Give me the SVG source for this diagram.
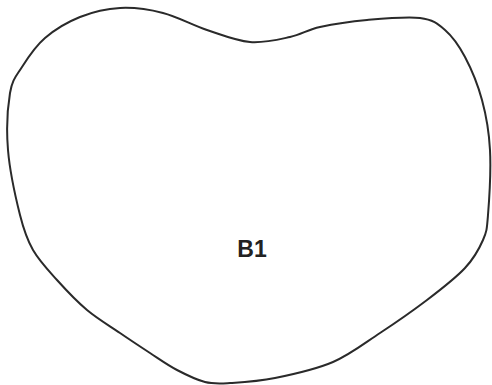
<svg xmlns="http://www.w3.org/2000/svg" width="492" height="385" viewBox="0 0 492 385">
<style>
.outline{fill:none;stroke:#2a2a2a;stroke-width:2;stroke-linejoin:round}
.label{font-family:"Liberation Sans",Arial,sans-serif;font-weight:bold;font-size:23px;fill:#222}
</style>
<rect width="492" height="385" fill="#ffffff"/>
<g id="B1">
<path class="outline" d="M 8,150 C 6.3,129.7 7.7,106.8 10,93 C 12.3,79.2 16.2,76.2 22,67 C 27.8,57.8 35.3,46.3 45,38 C 54.7,29.7 67.5,22 80,17 C 92.5,12 106.2,8.7 120,8 C 133.8,7.3 148.5,9.3 163,13 C 177.5,16.7 192.5,25.2 207,30 C 221.5,34.8 236.2,40.8 250,42 C 263.8,43.2 278.3,39.5 290,37 C 301.7,34.5 307.2,29.8 320,27 C 332.8,24.2 350.3,21.5 367,20 C 383.7,18.5 407,16.3 420,18 C 433,19.7 437.5,23.5 445,30 C 452.5,36.5 458.8,45.3 465,57 C 471.2,68.7 477.8,84.5 482,100 C 486.2,115.5 489,130.8 490,150 C 491,169.2 489.2,200 488,215 C 486.8,230 486.8,231.2 483,240 C 479.2,248.8 474.3,258 465,268 C 455.7,278 441.2,289.2 427,300 C 412.8,310.8 395.7,322.7 380,333 C 364.3,343.3 350.5,354.5 333,362 C 315.5,369.5 292.2,374.5 275,378 C 257.8,381.5 241.7,382.3 230,383 C 218.3,383.7 213.8,384.2 205,382 C 196.2,379.8 186.2,374.8 177,370 C 167.8,365.2 159.5,359.2 150,353 C 140.5,346.8 130.5,340.2 120,333 C 109.5,325.8 97.5,318.8 87,310 C 76.5,301.2 66,290 57,280 C 48,270 39.2,260.8 33,250 C 26.8,239.2 24.2,231.7 20,215 C 15.8,198.3 9.7,170.3 8,150 Z"/>
<text class="label" x="252" y="257" text-anchor="middle">B1</text>
</g>
<g id="connectors"></g>
</svg>
